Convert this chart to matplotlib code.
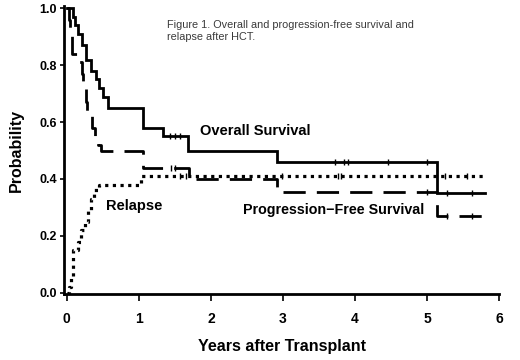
import matplotlib
matplotlib.use("Agg")
import matplotlib.pyplot as plt

# Overall survival (step, post)
os_t = [0, 0.09, 0.12, 0.16, 0.21, 0.27, 0.33, 0.40, 0.45, 0.50, 0.57, 1.05, 1.33, 1.68, 2.92, 5.14, 5.80]
os_s = [1.0, 0.97, 0.94, 0.91, 0.87, 0.82, 0.78, 0.75, 0.72, 0.69, 0.65, 0.58, 0.55, 0.50, 0.46, 0.35, 0.35]
os_cens_t = [1.43, 1.50, 1.57, 3.72, 3.85, 3.90, 4.46, 5.00, 5.28, 5.62]

# Progression-free survival
pfs_t = [0, 0.03, 0.05, 0.07, 0.17, 0.21, 0.23, 0.26, 0.28, 0.35, 0.39, 0.43, 0.48, 1.05, 1.70, 2.92, 5.14, 5.80]
pfs_s = [1.0, 0.96, 0.93, 0.84, 0.81, 0.77, 0.72, 0.67, 0.62, 0.58, 0.55, 0.52, 0.50, 0.44, 0.40, 0.355, 0.27, 0.27]
pfs_cens_t = [1.45, 1.50, 5.00, 5.28, 5.62]

# Relapse (cumulative incidence)
rel_t = [0, 0.03, 0.06, 0.08, 0.15, 0.20, 0.25, 0.30, 0.34, 0.37, 0.45, 1.03, 5.80]
rel_s = [0.0, 0.02, 0.05, 0.15, 0.18, 0.22, 0.25, 0.29, 0.33, 0.36, 0.38, 0.41, 0.41]
rel_cens_t = [1.57, 1.65, 2.99, 3.76, 3.80, 5.25, 5.55]

x_ticks = [0, 1, 2, 3, 4, 5, 6]
y_ticks = [0.0, 0.2, 0.4, 0.6, 0.8, 1.0]


def value_at(ts, ss, t):
    v = ss[0]
    for ti, si in zip(ts, ss):
        if ti <= t:
            v = si
    return v


plt.rcParams['font.family'] = ['Liberation Sans', 'DejaVu Sans']
fig = plt.figure(figsize=(5.2, 3.6), dpi=100)
ax = fig.add_axes([0.123, 0.183, 0.837, 0.80])

lw = 2.0
ax.step(os_t, os_s, where='post', color='black', lw=lw, solid_joinstyle='miter')
ax.step(pfs_t, pfs_s, where='post', color='black', lw=lw, linestyle=(0, (8, 4)))
ax.step(rel_t, rel_s, where='post', color='black', lw=2.3, linestyle=(0, (1, 1.4)),
        dash_capstyle='butt')

for ts, ss, ct in [(os_t, os_s, os_cens_t), (pfs_t, pfs_s, pfs_cens_t), (rel_t, rel_s, rel_cens_t)]:
    ax.plot(ct, [value_at(ts, ss, t) for t in ct], linestyle='none', marker='|',
            markersize=5, markeredgewidth=1.0, color='black')

ax.set_xlim(-0.04, 6.0)
ax.set_ylim(-0.005, 1.008)
ax.set_xticks(x_ticks)
ax.set_xticklabels([str(v) for v in x_ticks])
ax.set_yticks(y_ticks)
ax.set_yticklabels([f"{v:.1f}" for v in y_ticks])

for s in ['top', 'right']:
    ax.spines[s].set_visible(False)
for s in ['left', 'bottom']:
    ax.spines[s].set_linewidth(2.0)
ax.spines['bottom'].set_bounds(-0.04, 6.0)

ax.tick_params(axis='x', direction='out', length=5, width=1.2, pad=8, labelsize=10)
ax.tick_params(axis='y', direction='out', length=3, width=1.2, pad=2, labelsize=9)
for lab in ax.get_xticklabels() + ax.get_yticklabels():
    lab.set_fontweight('bold')

ax.set_xlabel('Years after Transplant', fontsize=11.5, fontweight='bold', labelpad=9)
ax.set_ylabel('Probability', fontsize=11.5, fontweight='bold', labelpad=11)

ax.text(1.85, 0.545, 'Overall Survival', fontsize=10.5, fontweight='bold', va='bottom')
ax.text(0.55, 0.28, 'Relapse', fontsize=10.5, fontweight='bold', va='bottom')
ax.text(2.45, 0.265, 'Progression\u2212Free Survival', fontsize=10.3, fontweight='bold', va='bottom')
ax.text(1.39, 0.958, 'Figure 1. Overall and progression-free survival and\nrelapse after HCT.',
        fontsize=7.8, color='#3a3a3a', va='top', linespacing=1.15)

fig.savefig('out.png', dpi=100)
